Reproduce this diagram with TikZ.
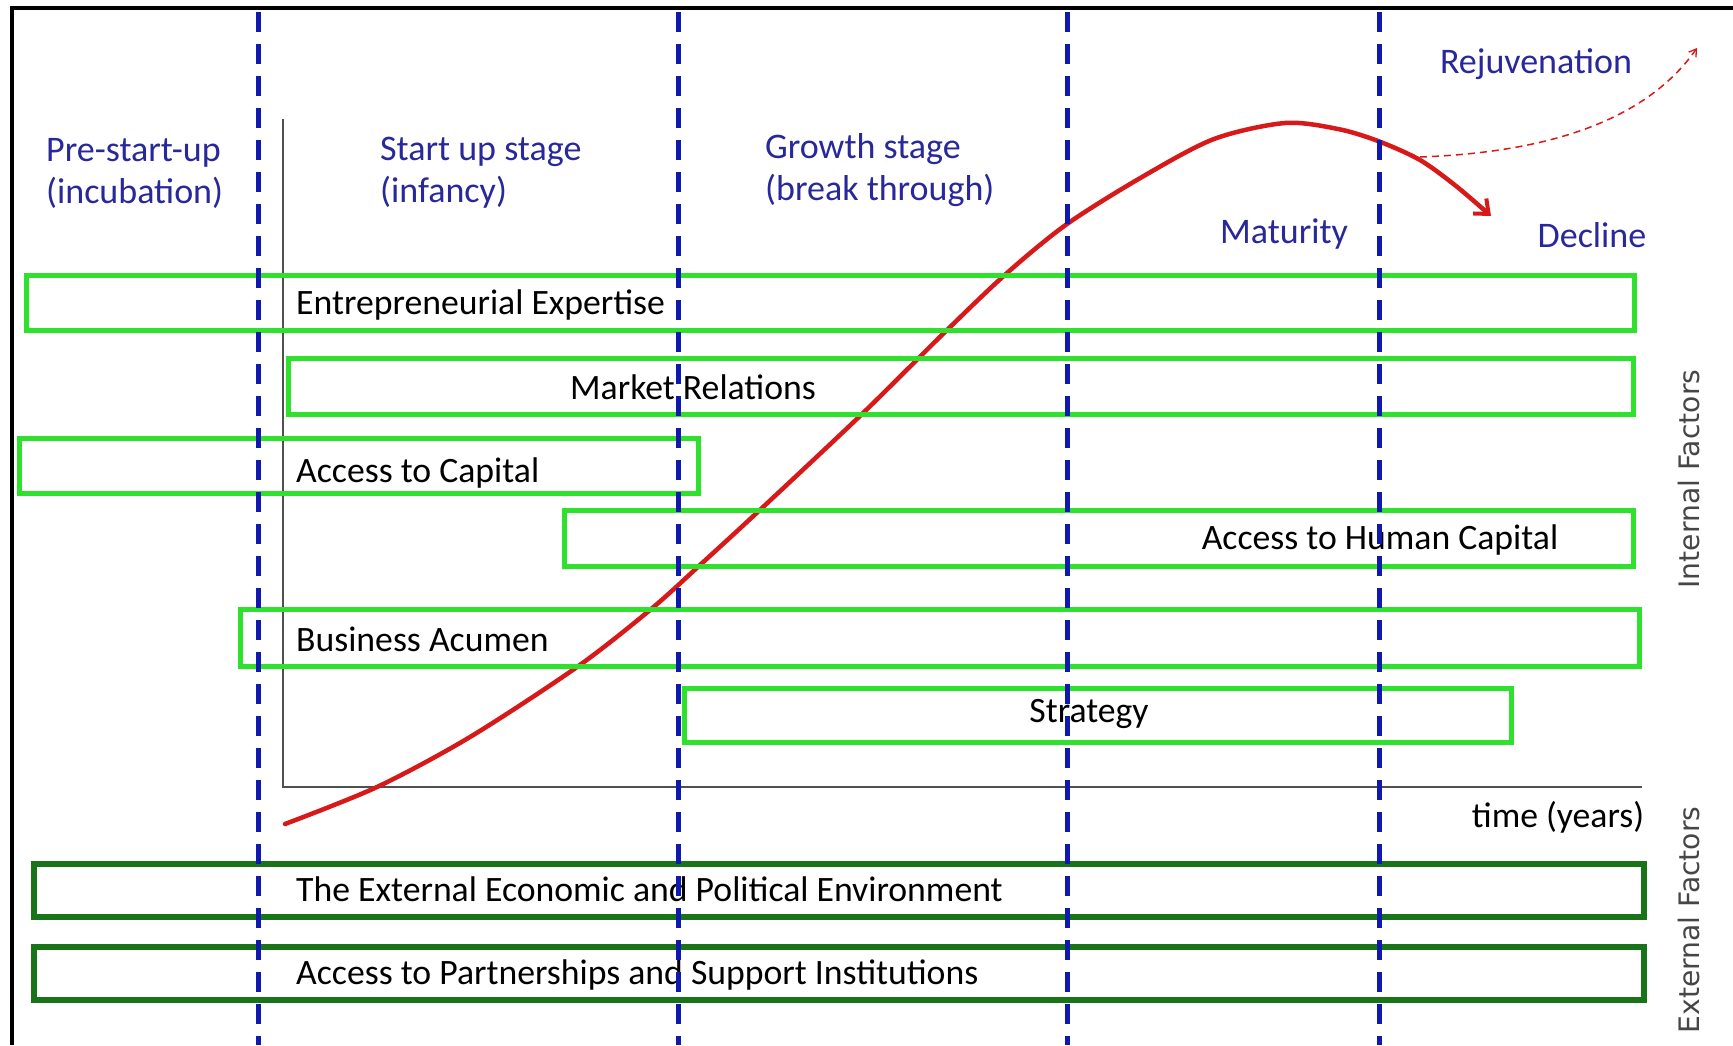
\documentclass[tikz,border=0pt]{standalone}
\usepackage{fontspec}
\setmainfont{Carlito}
\newfontfamily\dejavu{DejaVu Sans}
\usetikzlibrary{arrows.meta}
\definecolor{boxgreen}{RGB}{45,225,45}
\definecolor{darkboxgreen}{RGB}{25,115,25}
\definecolor{curvered}{RGB}{215,25,25}
\definecolor{dashblue}{RGB}{15,25,175}
\definecolor{stageblue}{RGB}{40,40,155}
\definecolor{axisgray}{RGB}{80,80,80}
\definecolor{sidegray}{RGB}{70,70,70}
\tikzset{
  gbox/.style={draw=boxgreen, line width=5pt},
  dgbox/.style={draw=darkboxgreen, line width=6.5pt},
  lab/.style={font=\fontsize{35.7}{42}\selectfont, inner sep=0pt, text=black},
  stagelab/.style={font=\fontsize{36}{42}\selectfont, inner sep=0pt, text=stageblue, align=left},
  sidelab/.style={font=\dejavu\fontsize{28.2}{30}\selectfont, inner sep=0pt, text=sidegray, rotate=90},
  phaseline/.style={draw=dashblue, line width=4.5pt, dash pattern=on 20pt off 12pt},
  axisline/.style={draw=axisgray, line width=1.8pt},
  lifecurve/.style={draw=curvered, line width=4.5pt, line cap=round},
  rejuv/.style={draw=curvered, line width=1.5pt, dash pattern=on 7pt off 5pt}
}
\begin{document}
\begin{tikzpicture}[x=1pt,y=-1pt]
\useasboundingbox (0,0) rectangle (1733,1045);
\fill[white] (0,0) rectangle (1733,1045);
% frame
\draw[black, line width=4pt] (12,1045) -- (12,8) -- (1733,8);
% axes
\coordinate (axtop) at (283,119);
\coordinate (axorig) at (283,787);
\coordinate (axend) at (1642,787);
\draw[axisline] (axtop) -- (axorig) -- (axend);
% life cycle curve
\draw[lifecurve, -{Straight Barb[length=12pt,width=20pt,line width=4pt]}]
  plot[smooth, tension=0.5] coordinates {(285,824) (377,787) (470,737) (577,667) (650,610) (700,565) (762,508) (862,414) (947,330) (1007,273) (1067,224) (1142,177) (1214,139) (1285,123) (1338,129) (1378,141) (1420,160) (1456,186) (1491,216)};
% rejuvenation
\coordinate (rjstart) at (1420,157);
\coordinate (rjend) at (1697,48);
\draw[rejuv, -{Straight Barb[length=7pt,width=9pt,line width=1.3pt]}] (rjstart) .. controls (1560,152) and (1650,115) .. (rjend);
% internal factor boxes
\draw[gbox] (26,275) rectangle (1634,330);
\draw[gbox] (288,358) rectangle (1633,414);
\draw[gbox] (19,438) rectangle (698,493);
\draw[gbox] (564,510) rectangle (1633,566);
\draw[gbox] (240,609) rectangle (1639,666);
\draw[gbox] (684,688) rectangle (1511,742);
% external factor boxes
\draw[dgbox] (34,864) rectangle (1644,917);
\draw[dgbox] (34,947) rectangle (1644,1000);
% box labels
\node[lab, anchor=west] (ee) at (296,305) {Entrepreneurial Expertise};
\node[lab] (mr) at (693,387) {Market Relations};
\node[lab, anchor=west] (ac) at (296,473) {Access to Capital};
\node[lab] (ahc) at (1380,540) {Access to Human Capital};
\node[lab] (st) at (1089,714) {Strategy};
\node[lab, anchor=west] (ba) at (296,639) {Business Acumen};
\node[lab, anchor=west] (ext) at (296,889) {The External Economic and Political Environment};
\node[lab, anchor=west] (ps) at (296,975) {Access to Partnerships and Support Institutions};
% stage labels
\node[stagelab, anchor=west] (pre) at (46,173) {Pre-start-up\\(incubation)};
\node[stagelab, anchor=west] (su) at (380,173) {Start up stage\\(infancy)};
\node[stagelab, anchor=west] (gr) at (765,170) {Growth stage\\(break through)};
\node[stagelab] (mat) at (1284,234) {Maturity};
\node[stagelab] (dec) at (1592,235) {Decline};
\node[stagelab] (rej) at (1536,64) {Rejuvenation};
\node[lab] (time) at (1558,817) {time (years)};
\node[sidelab] (intf) at (1689,479) {Internal Factors};
\node[sidelab] (extf) at (1689,920) {External Factors};
% phase boundaries
\foreach \xx/\nm in {258.6/pa,678.6/pb,1067.6/pc,1379.3/pd}{
  \coordinate (\nm top) at (\xx,12);
  \coordinate (\nm bot) at (\xx,1045);
  \draw[phaseline] (\nm top) -- (\nm bot);
}
\end{tikzpicture}
\end{document}
